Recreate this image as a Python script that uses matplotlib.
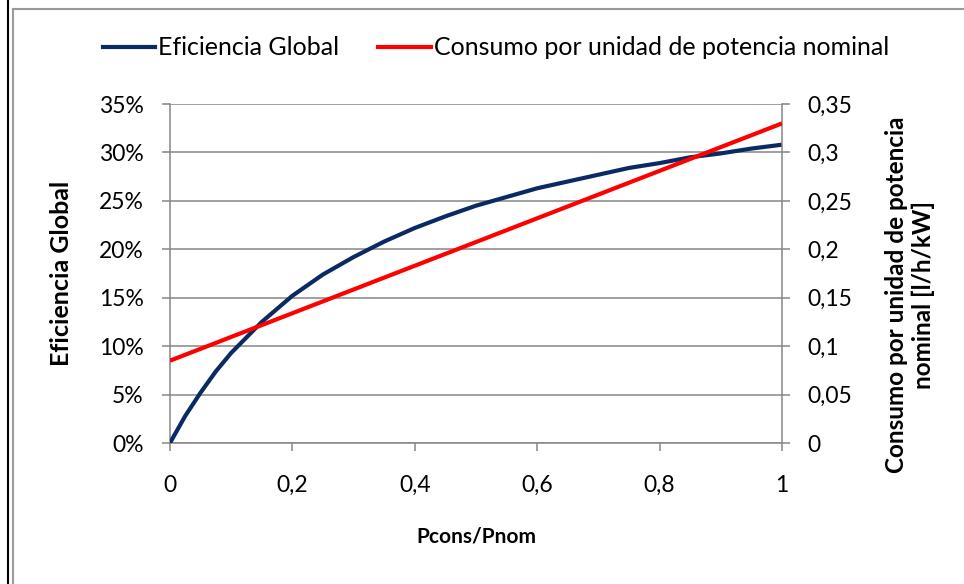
import matplotlib
matplotlib.use('Agg')
import matplotlib.pyplot as plt
from matplotlib.lines import Line2D
from matplotlib.ticker import FuncFormatter

plt.rcParams['font.family'] = ['Lato', 'DejaVu Sans']

# data
load_ratio = [0, 0.025, 0.05, 0.075, 0.1, 0.15, 0.2, 0.25, 0.3, 0.35, 0.4, 0.45,
              0.5, 0.55, 0.6, 0.65, 0.7, 0.75, 0.8, 0.85, 0.9, 0.95, 1.0]
eficiencia = [0.0, 0.028, 0.052, 0.074, 0.093, 0.125, 0.152, 0.174, 0.192, 0.208,
              0.222, 0.234, 0.245, 0.254, 0.263, 0.270, 0.277, 0.284, 0.289,
              0.295, 0.299, 0.304, 0.308]
consumo_x = [0, 0.2, 0.4, 0.6, 0.8, 1.0]
consumo = [0.085, 0.134, 0.183, 0.232, 0.281, 0.330]

x_ticks = [0, 0.2, 0.4, 0.6, 0.8, 1.0]
y_ticks = [0, 0.05, 0.10, 0.15, 0.20, 0.25, 0.30, 0.35]

blue = '#0b2a63'
red = '#ff0000'
grid_c = '#868686'


def comma(v, pos=None):
    s = f"{v:.2f}".rstrip('0').rstrip('.')
    return s.replace('.', ',')


fig = plt.figure(figsize=(9.64, 5.84), dpi=100)
ax = fig.add_axes([0.1763, 0.2414, 0.6349, 0.5805])
ax2 = ax.twinx()

ax.plot(load_ratio, eficiencia, color=blue, lw=3, solid_capstyle='butt', zorder=3)
ax2.plot(consumo_x, consumo, color=red, lw=3, solid_capstyle='butt', zorder=3)

ax.set_xlim(0, 1)
ax.set_ylim(0, 0.35)
ax2.set_ylim(0, 0.35)
ax.set_xticks(x_ticks)
ax.set_yticks(y_ticks)
ax2.set_yticks(y_ticks)
ax.xaxis.set_major_formatter(FuncFormatter(comma))
ax.yaxis.set_major_formatter(FuncFormatter(lambda v, p: f"{round(v * 100)}%"))
ax2.yaxis.set_major_formatter(FuncFormatter(comma))

ax.grid(axis='y', color=grid_c, lw=1.1)
ax.set_axisbelow(True)
for a in (ax, ax2):
    for s in a.spines.values():
        s.set_visible(False)
ax.spines['left'].set_visible(True)
ax.spines['bottom'].set_visible(True)
ax2.spines['right'].set_visible(True)
for sp in (ax.spines['left'], ax.spines['bottom'], ax2.spines['right']):
    sp.set_color(grid_c)
    sp.set_linewidth(1.1)

ax.tick_params(axis='y', direction='out', length=6, width=1.1, color=grid_c,
               labelsize=16.5, pad=13)
ax.tick_params(axis='x', direction='out', length=6, width=1.1, color=grid_c,
               labelsize=16.5, pad=17)
ax2.tick_params(axis='y', direction='out', length=6, width=1.1, color=grid_c,
                labelsize=16.5, pad=12)

fig.text(0.064, 0.5324, 'Eficiencia Global', rotation=90, ha='center',
         va='center', fontsize=18, fontweight='bold')
fig.text(0.944, 0.495, 'Consumo por unidad de potencia\nnominal [l/h/kW]',
         rotation=90, ha='center', va='center', fontsize=17.5, fontweight='bold',
         linespacing=1.15)
fig.text(0.4938, 0.0805, 'Pcons/Pnom', ha='center', va='center', fontsize=15,
         fontweight='bold')

handles = [Line2D([], [], color=blue, lw=3), Line2D([], [], color=red, lw=3)]
fig.legend(handles, ['Eficiencia Global', 'Consumo por unidad de potencia nominal'],
           loc='center', bbox_to_anchor=(0.5145, 0.918), ncol=2, frameon=False,
           fontsize=18, handlelength=2.1, handletextpad=0.12, columnspacing=1.55)

# outer frame lines
fig.add_artist(Line2D([0.0085, 0.0085], [0, 1], color='black', lw=1.5))
fig.add_artist(Line2D([0.0130, 0.0130], [0, 0.984], color='#9a9a9a', lw=1.5))
fig.add_artist(Line2D([0.0130, 1], [0.984, 0.984], color='#9a9a9a', lw=1.5))

fig.savefig('out.png', dpi=100)
